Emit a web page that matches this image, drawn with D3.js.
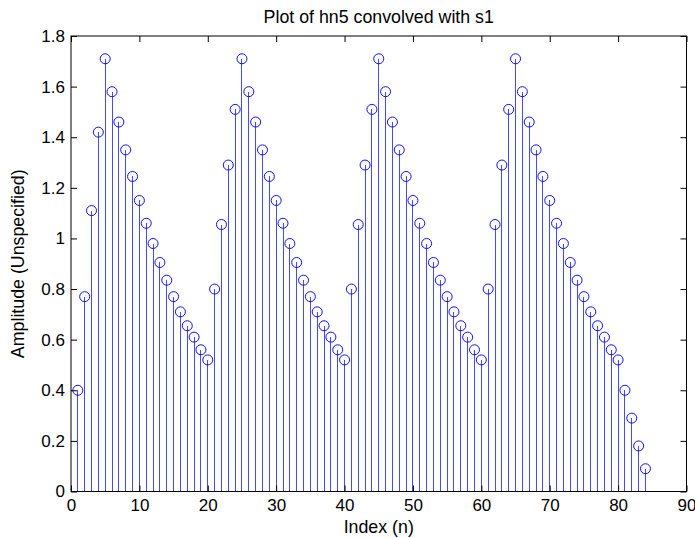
<!DOCTYPE html>
<html>
<head>
<meta charset="utf-8">
<script src="https://cdn.jsdelivr.net/npm/d3@7"></script>
<style>
  body { margin: 0; background: #fff; }
  text { font-family: "Liberation Sans", Arial, sans-serif; }
</style>
</head>
<body>
<div id="chart"></div>
<script>
// values, index n = 1..84
var amplitude = [
  0.40, 0.77, 1.11, 1.42, 1.71, 1.58, 1.46, 1.35, 1.245, 1.15,
  1.06, 0.98, 0.905, 0.835, 0.77, 0.71, 0.655, 0.61, 0.56, 0.52,
  0.80, 1.055, 1.29, 1.51, 1.71, 1.58, 1.46, 1.35, 1.245, 1.15,
  1.06, 0.98, 0.905, 0.835, 0.77, 0.71, 0.655, 0.61, 0.56, 0.52,
  0.80, 1.055, 1.29, 1.51, 1.71, 1.58, 1.46, 1.35, 1.245, 1.15,
  1.06, 0.98, 0.905, 0.835, 0.77, 0.71, 0.655, 0.61, 0.56, 0.52,
  0.80, 1.055, 1.29, 1.51, 1.71, 1.58, 1.46, 1.35, 1.245, 1.15,
  1.06, 0.98, 0.905, 0.835, 0.77, 0.71, 0.655, 0.61, 0.56, 0.52,
  0.40, 0.29, 0.18, 0.09
];
var xTicks = [0, 10, 20, 30, 40, 50, 60, 70, 80, 90];
var yTicks = [0, 0.2, 0.4, 0.6, 0.8, 1, 1.2, 1.4, 1.6, 1.8];

var svgWidth = 695;
var svgHeight = 538;

var margin = { top: 36, right: 8.5, bottom: 46.5, left: 71 };
var width = svgWidth - margin.left - margin.right;
var height = svgHeight - margin.top - margin.bottom;

var svg = d3.select("#chart")
  .append("svg")
  .attr("width", svgWidth)
  .attr("height", svgHeight);

var chartGroup = svg.append("g")
  .attr("transform", `translate(${margin.left}, ${margin.top})`);

var data = amplitude.map(function(v, i) { return { n: i + 1, value: v }; });

var xScale = d3.scaleLinear().domain([0, 90]).range([0, width]);
var yScale = d3.scaleLinear().domain([0, 1.8]).range([height, 0]);

// stems
chartGroup.selectAll("line.stem")
  .data(data)
  .enter()
  .append("line")
  .attr("class", "stem")
  .attr("x1", d => xScale(d.n))
  .attr("x2", d => xScale(d.n))
  .attr("y1", yScale(0))
  .attr("y2", d => yScale(d.value))
  .attr("stroke", "#4848ff")
  .attr("stroke-width", 1)
  .attr("shape-rendering", "crispEdges");

// markers
chartGroup.selectAll("circle")
  .data(data)
  .enter()
  .append("circle")
  .attr("cx", d => xScale(d.n))
  .attr("cy", d => yScale(d.value))
  .attr("r", 5)
  .attr("fill", "none")
  .attr("stroke", "#1010ff")
  .attr("stroke-width", 1);

var fmt = d => String(+d.toFixed(1));

// axes, ticks pointing inward like matlab
var bottomAxis = d3.axisBottom(xScale).tickValues(xTicks).tickSizeInner(-6).tickSizeOuter(0).tickPadding(7);
var topAxis = d3.axisTop(xScale).tickValues(xTicks).tickSizeInner(-6).tickSizeOuter(0).tickFormat("");
var leftAxis = d3.axisLeft(yScale).tickValues(yTicks).tickSizeInner(-6).tickSizeOuter(0).tickPadding(6).tickFormat(fmt);
var rightAxis = d3.axisRight(yScale).tickValues(yTicks).tickSizeInner(-6).tickSizeOuter(0).tickFormat("");

chartGroup.append("g").attr("transform", `translate(0, ${height})`).call(bottomAxis);
chartGroup.append("g").call(topAxis);
chartGroup.append("g").call(leftAxis);
chartGroup.append("g").attr("transform", `translate(${width}, 0)`).call(rightAxis);

chartGroup.selectAll(".domain").remove();
chartGroup.selectAll(".tick line").attr("stroke", "#000");
chartGroup.selectAll(".tick text")
  .attr("fill", "#000")
  .style("font-size", "17px")
  .style("font-family", "'Liberation Sans', Arial, sans-serif");

chartGroup.append("rect")
  .attr("width", width)
  .attr("height", height)
  .attr("fill", "none")
  .attr("stroke", "#000")
  .attr("stroke-width", 1);

// title and labels
svg.append("text")
  .attr("x", margin.left + width / 2)
  .attr("y", 22.5)
  .attr("text-anchor", "middle")
  .style("font-size", "17.8px")
  .text("Plot of hn5 convolved with s1");

svg.append("text")
  .attr("x", margin.left + width / 2)
  .attr("y", 533)
  .attr("text-anchor", "middle")
  .style("font-size", "17.8px")
  .text("Index (n)");

svg.append("text")
  .attr("transform", `translate(23.5, ${margin.top + height / 2}) rotate(-90)`)
  .attr("text-anchor", "middle")
  .style("font-size", "17.8px")
  .text("Amplitude (Unspecified)");
</script>
</body>
</html>
